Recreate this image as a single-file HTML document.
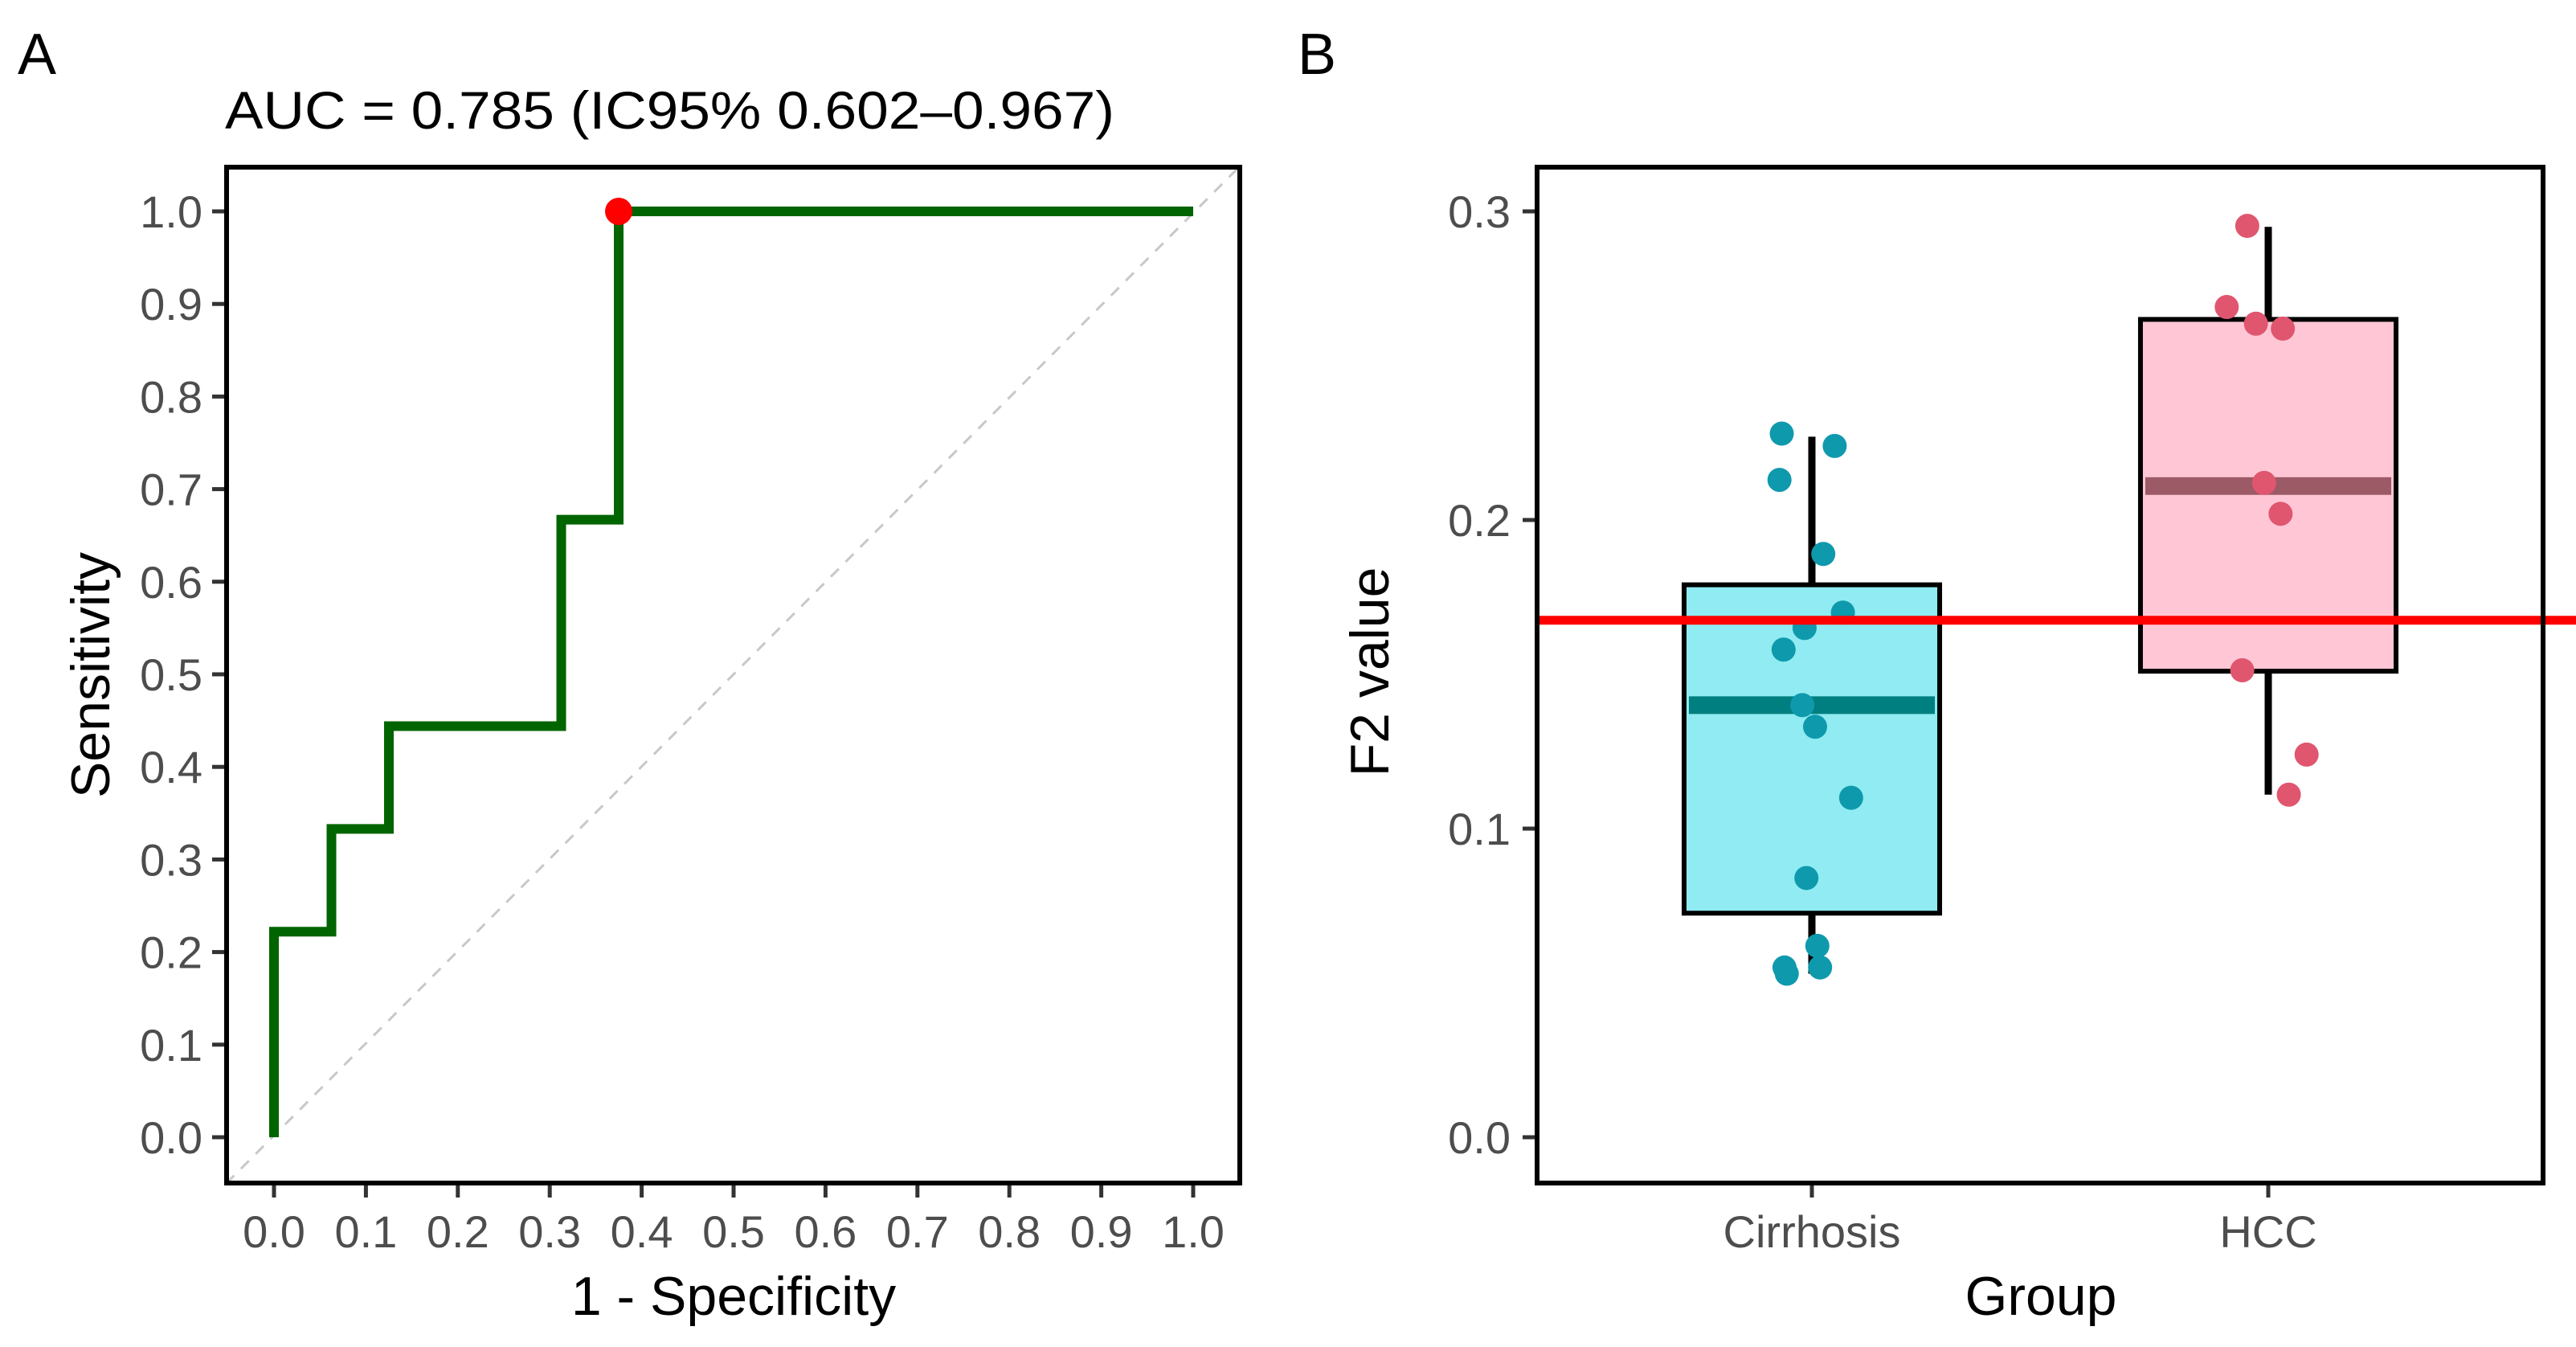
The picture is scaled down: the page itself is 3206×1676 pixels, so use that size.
<!DOCTYPE html>
<html><head><meta charset="utf-8"><style>
html,body{margin:0;padding:0;background:#fff;}
svg{display:block;font-family:"Liberation Sans",Arial,sans-serif;}
</style></head><body>
<svg id="fig" width="3206" height="1676" viewBox="0 0 3206 1676" xmlns="http://www.w3.org/2000/svg">
<rect x="0" y="0" width="3206" height="1676" fill="#fff"/>
<g id="panelA"></g>
<g id="panelB"></g>
</svg>
<script>
// ROC data
const rocFpr = [0, 0, 0.0625, 0.0625, 0.125, 0.125, 0.3125, 0.3125, 0.375, 0.375, 1];
const rocTpr = [0, 0.222, 0.222, 0.333, 0.333, 0.444, 0.444, 0.667, 0.667, 1, 1];
const bestPoint = [0.375, 1];
const rocTicks = ["0.0","0.1","0.2","0.3","0.4","0.5","0.6","0.7","0.8","0.9","1.0"];
// Boxplot data
const groups = ["Cirrhosis", "HCC"];
const boxQ1 = [0.0726, 0.151];
const boxMedian = [0.140, 0.211];
const boxQ3 = [0.179, 0.265];
const whiskerLow = [0.053, 0.111];
const whiskerHigh = [0.227, 0.295];
const cirrhosisValues = [0.228,0.224,0.213,0.189,0.170,0.165,0.158,0.140,0.133,0.110,0.084,0.062,0.055,0.055,0.053];
const cirrhosisJitter = [-0.066,0.05,-0.071,0.025,0.068,-0.016,-0.062,-0.021,0.007,0.086,-0.012,0.012,-0.06,0.018,-0.055];
const hccValues = [0.2953,0.269,0.2636,0.262,0.212,0.202,0.1513,0.124,0.111];
const hccJitter = [-0.046,-0.091,-0.027,0.032,-0.009,0.027,-0.057,0.084,0.045];
const cutoff = 0.1675;
const f2Ticks = ["0.0","0.1","0.2","0.3"];

const NS="http://www.w3.org/2000/svg";
function mk(parent,tag,attrs,text){const e=document.createElementNS(NS,tag);for(const k in attrs)e.setAttribute(k,attrs[k]);if(text!==undefined)e.textContent=text;parent.appendChild(e);return e;}

// Panel A
const A=document.getElementById('panelA');
const ax=v=>341+v*1144, ay=v=>1415-v*1152;
let t;
t=mk(A,'text',{x:22,y:92,'font-size':72,fill:'#000'},'A');


t=mk(A,'text',{x:280,y:160,'font-size':66,fill:'#000',textLength:1107,lengthAdjust:'spacingAndGlyphs'},'AUC = 0.785 (IC95% 0.602–0.967)');


t=mk(A,'line',{x1:ax(-0.052),y1:ay(-0.05),x2:ax(1.052),y2:ay(1.05),stroke:'#c8c8c8','stroke-width':3,'stroke-dasharray':'14,12'});


let d='';
for(let i=0;i<rocFpr.length;i++){d+=(i?'L':'M')+ax(rocFpr[i])+','+ay(rocTpr[i]);}
t=mk(A,'path',{d:d,fill:'none',stroke:'#006400','stroke-width':12,'stroke-linejoin':'miter'});


t=mk(A,'circle',{cx:ax(bestPoint[0]),cy:ay(bestPoint[1]),r:17,fill:'#ff0000'});


t=mk(A,'rect',{x:282,y:208,width:1261,height:1264,fill:'none',stroke:'#000','stroke-width':6});


rocTicks.forEach((lab,i)=>{
  const v=parseFloat(lab);
  let e=mk(A,'line',{x1:ax(v),y1:1475,x2:ax(v),y2:1490,stroke:'#333','stroke-width':5});
  
  
  e=mk(A,'text',{x:ax(v),y:1552,'font-size':56,fill:'#4d4d4d','text-anchor':'middle'},lab);
  
  
  e=mk(A,'line',{x1:264,y1:ay(v),x2:279,y2:ay(v),stroke:'#333','stroke-width':5});
  
  
  e=mk(A,'text',{x:252,y:ay(v)+20,'font-size':56,fill:'#4d4d4d','text-anchor':'end'},lab);
  
  
});
t=mk(A,'text',{x:913,y:1636,'font-size':68,fill:'#000','text-anchor':'middle'},'1 - Specificity');


t=mk(A,'text',{x:0,y:0,'font-size':68,fill:'#000','text-anchor':'middle',transform:'translate(136,840) rotate(-90)'},'Sensitivity');



// Panel B
const B=document.getElementById('panelB');
const bx=i=>2255+i*568, by=v=>1415-v*3840;
const fills=['#90ecf2','#ffc7d6'], meds=['#007f80','#9b5a66'], pts=['#0f99ad','#e0566f'];
t=mk(B,'text',{x:1615,y:92,'font-size':72,fill:'#000'},'B');


const hw=0.28*568;
groups.forEach((g,i)=>{
  let e=mk(B,'line',{x1:bx(i),y1:by(whiskerHigh[i]),x2:bx(i),y2:by(boxQ3[i]),stroke:'#000','stroke-width':9});
  
  
  e=mk(B,'line',{x1:bx(i),y1:by(boxQ1[i]),x2:bx(i),y2:by(whiskerLow[i]),stroke:'#000','stroke-width':9});
  
  
  e=mk(B,'rect',{x:bx(i)-hw,y:by(boxQ3[i]),width:2*hw,height:by(boxQ1[i])-by(boxQ3[i]),fill:fills[i],stroke:'#000','stroke-width':6});
  
  
  e=mk(B,'line',{x1:bx(i)-hw+6,y1:by(boxMedian[i]),x2:bx(i)+hw-6,y2:by(boxMedian[i]),stroke:meds[i],'stroke-width':22});
  
  
});
cirrhosisValues.forEach((v,k)=>{
  const e=mk(B,'circle',{cx:bx(0)+cirrhosisJitter[k]*568,cy:by(v),r:15,fill:pts[0]});
  
  
});
hccValues.forEach((v,k)=>{
  const e=mk(B,'circle',{cx:bx(1)+hccJitter[k]*568,cy:by(v),r:15,fill:pts[1]});
  
  
});
t=mk(B,'line',{x1:1915,y1:by(cutoff),x2:3206,y2:by(cutoff),stroke:'#ff0000','stroke-width':11});


t=mk(B,'rect',{x:1913,y:208,width:1252,height:1264,fill:'none',stroke:'#000','stroke-width':6});


f2Ticks.forEach(lab=>{
  const v=parseFloat(lab);
  let e=mk(B,'line',{x1:1895,y1:by(v),x2:1910,y2:by(v),stroke:'#333','stroke-width':5});
  
  
  e=mk(B,'text',{x:1880,y:by(v)+20,'font-size':56,fill:'#4d4d4d','text-anchor':'end'},lab);
  
  
});
groups.forEach((g,i)=>{
  let e=mk(B,'line',{x1:bx(i),y1:1475,x2:bx(i),y2:1490,stroke:'#333','stroke-width':5});
  
  
  e=mk(B,'text',{x:bx(i),y:1552,'font-size':56,fill:'#4d4d4d','text-anchor':'middle'},g);
  
  
});
t=mk(B,'text',{x:2540,y:1636,'font-size':68,fill:'#000','text-anchor':'middle'},'Group');


t=mk(B,'text',{x:0,y:0,'font-size':68,fill:'#000','text-anchor':'middle',transform:'translate(1728,836) rotate(-90)'},'F2 value');


</script>
</body></html>
